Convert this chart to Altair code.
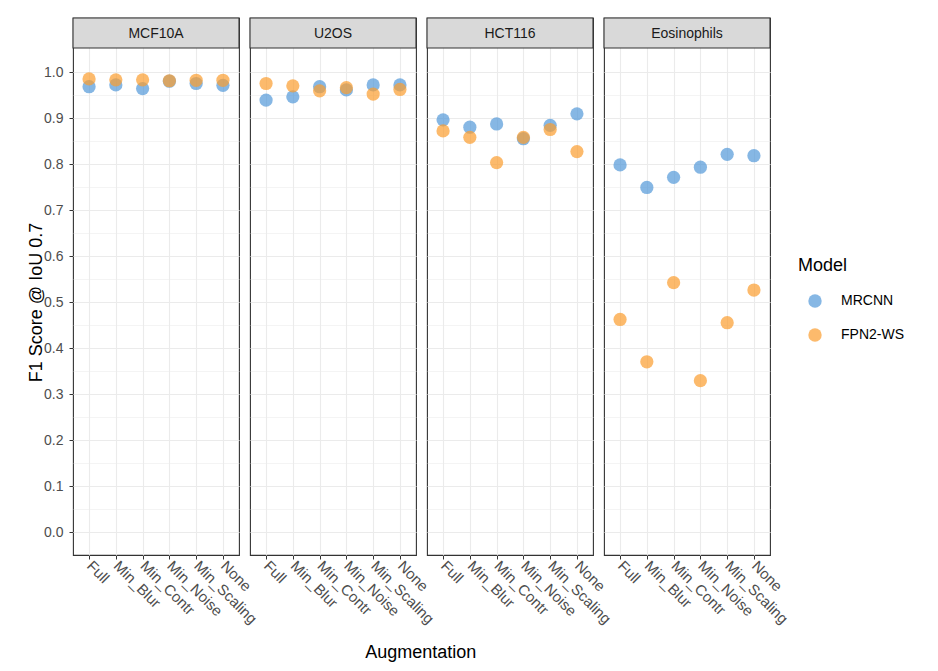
import altair as alt
import pandas as pd

cells = ["MCF10A", "U2OS", "HCT116", "Eosinophils"]
augs = ["Full", "Min_Blur", "Min_Contr", "Min_Noise", "Min_Scaling", "None"]
models = ["MRCNN", "FPN2-WS"]
colors = ["#5299D8", "#FB9D2E"]

mrcnn = {
    "MCF10A":      [0.968, 0.972, 0.964, 0.980, 0.975, 0.971],
    "U2OS":        [0.939, 0.946, 0.968, 0.961, 0.972, 0.972],
    "HCT116":      [0.896, 0.880, 0.887, 0.855, 0.884, 0.909],
    "Eosinophils": [0.798, 0.749, 0.771, 0.793, 0.821, 0.818],
}
fpn2ws = {
    "MCF10A":      [0.985, 0.983, 0.983, 0.981, 0.982, 0.982],
    "U2OS":        [0.975, 0.970, 0.959, 0.966, 0.952, 0.962],
    "HCT116":      [0.872, 0.858, 0.803, 0.858, 0.875, 0.827],
    "Eosinophils": [0.462, 0.370, 0.542, 0.329, 0.455, 0.526],
}

rows = []
for model, table in zip(models, [mrcnn, fpn2ws]):
    for cell in cells:
        for aug, v in zip(augs, table[cell]):
            rows.append({"Cell": cell, "Augmentation": aug, "Model": model, "F1": v})
df = pd.DataFrame(rows)

W = 166
H = 537
STRIP = 30

yvals = [round(i * 0.05, 2) for i in range(21)]
major = "round(datum.value * 20) % 2 == 0"

points = alt.Chart().mark_circle(size=175, opacity=0.7).encode(
    x=alt.X("Augmentation:N", sort=augs,
            scale=alt.Scale(type="point", padding=0.6, domain=augs),
            axis=alt.Axis(title=None, labelAngle=45, labelAlign="left",
                          labelBaseline="middle", labelPadding=4, labelFontSize=15,
                          labelColor="#4D4D4D", tickColor="#333333", tickSize=4,
                          domain=False, grid=True, gridColor="#EBEBEB", gridWidth=1.1)),
    y=alt.Y("F1:Q",
            scale=alt.Scale(domain=[-0.05, 1.1174], nice=False, zero=False),
            axis=alt.Axis(title="F1 Score @ IoU 0.7", values=yvals,
                          labelExpr="(" + major + ") ? format(datum.value, '.1f') : ''",
                          labelFontSize=14, labelColor="#4D4D4D", labelPadding=6,
                          tickColor="#333333", tickSize=4,
                          tickOpacity={"condition": {"test": major, "value": 1}, "value": 0},
                          domain=False, grid=True, gridColor="#EBEBEB",
                          gridWidth={"condition": {"test": major, "value": 1.1}, "value": 0.55},
                          titleFontSize=18, titleFontWeight="normal", titleColor="#000000",
                          titlePadding=-2, titleY=284)),
    color=alt.Color("Model:N", sort=models,
                    scale=alt.Scale(domain=models, range=colors),
                    legend=alt.Legend(title="Model", orient="none", legendX=725, legendY=239,
                                      titleFontSize=18, titleFontWeight="normal",
                                      titleColor="#000000", titlePadding=19,
                                      labelFontSize=14, labelColor="#000000",
                                      symbolType="circle", symbolSize=180,
                                      symbolOpacity=0.7, symbolStrokeWidth=0,
                                      symbolOffset=10,
                                      rowPadding=20, labelOffset=19)),
)

first = "datum.Augmentation == 'Full' && datum.Model == 'MRCNN'"

strip_rect = alt.Chart().mark_rect(fill="#D9D9D9", stroke="#333333", strokeWidth=1.1).encode(
    x=alt.value(0), x2=alt.value(W), y=alt.value(0), y2=alt.value(STRIP)
).transform_filter(first)

strip_text = alt.Chart().mark_text(fontSize=14, color="#1A1A1A", align="center",
                                   baseline="middle").encode(
    x=alt.value(W / 2), y=alt.value(STRIP / 2 + 1), text="Cell:N"
).transform_filter(first)

layer = alt.layer(points, strip_rect, strip_text, data=df).properties(width=W, height=H)

chart = layer.facet(
    column=alt.Column("Cell:N", sort=cells, header=alt.Header(title=None, labels=False)),
    spacing=11,
    bounds="flush",
).properties(
    padding={"left": 27, "top": 16, "right": 5, "bottom": 5},
    background="#FFFFFF",
    title=alt.TitleParams("Augmentation", orient="bottom", anchor="middle",
                          fontSize=18, fontWeight="normal", color="#000000",
                          frame="bounds", offset=18, dx=-45),
).configure(
    font="Liberation Sans",
).configure_view(
    stroke="#333333", strokeWidth=1.1, fill="#FFFFFF",
)

chart.save("out.html", embed_options={"renderer": "svg", "actions": False})
